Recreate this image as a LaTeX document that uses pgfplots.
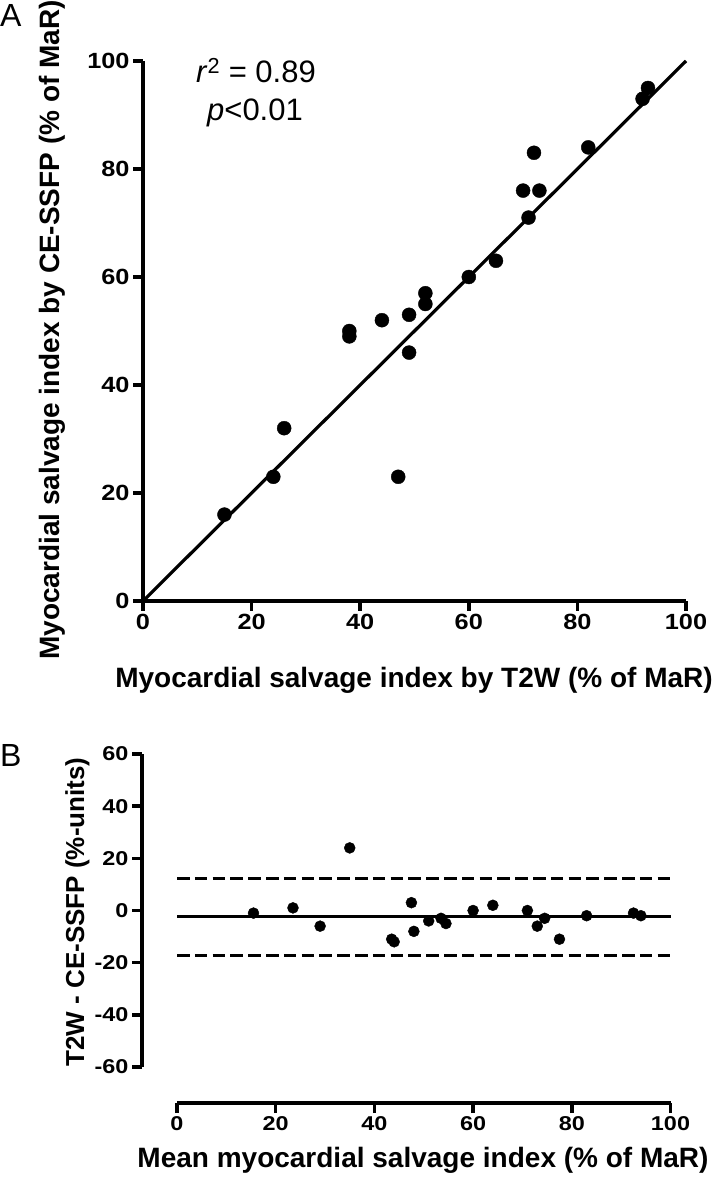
\documentclass[border=0pt]{standalone}
\usepackage{fontspec}
\setmainfont{Liberation Sans}
\usepackage{pgfplots}
\pgfplotsset{compat=1.18}
\pgfplotstableread{
x y
15 16
24 23
26 32
47 23
38 50
38 49
44 52
49 53
49 46
52 57
52 55
60 60
65 63
71 71
70 76
73 76
72 83
82 84
92 93
93 95
}\scatterA
\pgfplotstableread{
x y
15.5 -1
23.5 1
29 -6
35 24
44 -12
43.5 -11
48 -8
51 -4
47.5 3
54.5 -5
53.5 -3
60 0
64 2
71 0
73 -6
74.5 -3
77.5 -11
83 -2
92.5 -1
94 -2
}\scatterB
\pgfplotsset{
  prism/.style={
    scale only axis,
    axis x line*=bottom, axis y line*=left,
    axis line style={-, line width=4pt},
    tick style={line width=3.5pt, black},
    major tick length=10pt,
    tick align=outside,
    /pgf/number format/assume math mode=true,
    clip=false,
  }
}
\begin{document}
\begin{tikzpicture}[x=1pt,y=1pt]
\useasboundingbox (0,0) rectangle (717,1186);
\begin{axis}[prism,
  at={(143pt,585pt)}, anchor=south west,
  width=543pt, height=540pt,
  xmin=0,xmax=100,ymin=0,ymax=100,
  xtick={0,20,...,100}, ytick={0,20,...,100},
  tick label style={font=\bfseries\fontsize{22}{22}\selectfont\addfontfeature{FakeStretch=1.15}},
]
\addplot[line width=3.2pt, black] coordinates {(0,0) (100,100)};
\addplot[only marks, mark=*, mark size=7pt, black] table[x=x,y=y] {\scatterA};
\end{axis}
\begin{axis}[prism,
  at={(177pt,119pt)}, anchor=south west,
  width=493.5pt, height=313pt,
  xmin=0,xmax=100,ymin=-60,ymax=60,
  axis x line shift=36pt, axis y line shift=35pt,
  xtick={0,20,...,100}, ytick={-60,-40,...,60},
  tick label style={font=\bfseries\fontsize{20}{20}\selectfont\addfontfeature{FakeStretch=1.17}},
]
\addplot[line width=3.2pt, black] coordinates {(0,-2.4) (100,-2.4)};
\addplot[line width=3.2pt, black, dash pattern=on 12.5pt off 5.3pt] coordinates {(0,12.3) (100,12.3)};
\addplot[line width=3.2pt, black, dash pattern=on 12.5pt off 5.3pt] coordinates {(0,-17.3) (100,-17.3)};
\addplot[only marks, mark=*, mark size=5.5pt, black] table[x=x,y=y] {\scatterB};
\end{axis}
\node[font=\bfseries\fontsize{28}{28}\selectfont, anchor=base] at (414,498) {Myocardial salvage index by T2W (\% of MaR)};
\node[font=\bfseries\fontsize{28}{28}\selectfont, anchor=base, rotate=90] at (59,856) {Myocardial salvage index by CE-SSFP (\% of MaR)};
\node[font=\bfseries\fontsize{26}{26}\selectfont, anchor=base, rotate=90] at (84,274) {T2W - CE-SSFP (\%-units)};
\node[font=\bfseries\fontsize{28}{28}\selectfont, anchor=base] at (423,19) {Mean myocardial salvage index (\% of MaR)};
\node[font=\fontsize{32}{32}\selectfont, anchor=base west, inner sep=0pt] at (0,1159) {A};
\node[font=\fontsize{32}{32}\selectfont, anchor=base west, inner sep=0pt] at (0,419) {B};
\node[font=\fontsize{31}{31}\selectfont, anchor=base] at (256,1103) {\textit{r}\textsuperscript{2} = 0.89};
\node[font=\fontsize{31}{31}\selectfont, anchor=base] at (255,1065) {\textit{p}<0.01};
\end{tikzpicture}
\end{document}
